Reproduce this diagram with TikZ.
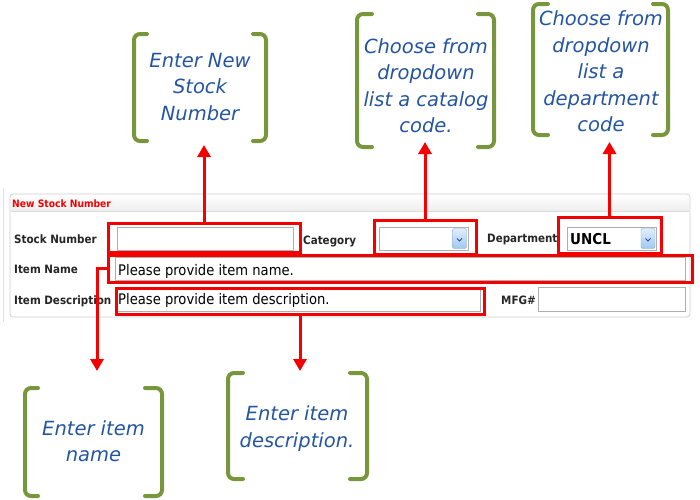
\documentclass[tikz,border=0pt]{standalone}
\usepackage{fontspec}
\usetikzlibrary{arrows.meta}
\newfontfamily\uifont{DejaVu Sans}[FakeStretch=0.9]
\newfontfamily\callfont{DejaVu Sans}
\definecolor{callblue}{RGB}{35,85,160}
\definecolor{brgreen}{RGB}{120,150,60}
\definecolor{hlred}{RGB}{245,0,0}
\definecolor{boxgray}{RGB}{175,175,175}
\definecolor{panelgray}{RGB}{205,205,205}
\definecolor{btnborder}{RGB}{130,170,215}
\definecolor{btntop}{RGB}{225,238,252}
\definecolor{btnbot}{RGB}{160,200,240}
\definecolor{chevblue}{RGB}{40,80,150}
\tikzset{
  hl/.style={draw=hlred, line width=3pt, inner sep=0pt},
  inbox/.style={draw=boxgray, fill=white, line width=0.8pt, inner sep=0pt},
  lbl/.style={font=\uifont\bfseries\fontsize{11.5}{12}\selectfont, anchor=base west, inner sep=0pt, text=black!85},
  intext/.style={font=\uifont\fontsize{14.6}{15}\selectfont, anchor=base west, inner sep=0pt},
  callout/.style={font=\callfont\itshape\fontsize{19.5}{26.5}\selectfont, text=callblue, align=center, inner sep=0pt},
  brk/.style={draw=brgreen, line width=4pt, rounded corners=6pt, line cap=round},
  arr/.style={draw=hlred, line width=3pt, -{Triangle[length=12pt,width=13pt]}},
  dbtn/.style={draw=btnborder, rounded corners=2pt, top color=btntop, bottom color=btnbot, inner sep=0pt, minimum width=14pt, minimum height=20pt},
  chev/.style={draw=chevblue, line width=1pt}
}
\newcommand\calloutbrackets[6]{%
  \draw[brk] (#2,#5) -- (#1,#5) -- (#1,#6) -- (#2,#6);
  \draw[brk] (#3,#5) -- (#4,#5) -- (#4,#6) -- (#3,#6);}
\begin{document}
\begin{tikzpicture}[x=1pt,y=-1pt]
\useasboundingbox (0,0) rectangle (700,499);
% panel
\draw[panelgray!60, line width=0.8pt] (3,188) -- (3,322);
\draw[panelgray, fill=white, rounded corners=3pt, line width=0.8pt] (10,194) rectangle (690,317);
\shade[top color=white, bottom color=black!7] (11,195) rectangle (689,211);
\draw[panelgray!70, line width=0.6pt] (11,211) -- (689,211);
\node[font=\uifont\bfseries\fontsize{10.2}{11}\selectfont, text=hlred, anchor=base west, inner sep=0pt] (title) at (12,207) {New Stock Number};
% labels
\node[lbl] (lsn) at (14,243) {Stock Number};
\node[lbl] (lcat) at (303,244) {Category};
\node[lbl] (ldep) at (487,242) {Department};
\node[lbl] (lin) at (14,273) {Item Name};
\node[lbl] (lid) at (14,304) {Item Description};
\node[lbl] (lmfg) at (501,304) {MFG\#};
% inputs
\node[inbox, minimum width=176pt, minimum height=23pt] (isn) at (205,238.5) {};
\node[inbox, minimum width=89pt, minimum height=23pt] (icat) at (423.5,238.5) {};
\node[inbox, minimum width=89pt, minimum height=23pt] (idep) at (611.5,238.5) {};
\node[inbox, minimum width=570pt, minimum height=23pt] (iname) at (400,268.5) {};
\node[inbox, minimum width=364pt, minimum height=23pt] (idesc) at (298,300) {};
\node[inbox, minimum width=147pt, minimum height=24pt] (imfg) at (611.5,299) {};
\node[dbtn] (cbtn) at (459.5,238.5) {};
\node[dbtn] (dbtn) at (648,238.5) {};
\draw[chev] ([shift={(-2.5,0)}]cbtn.center) -- ([shift={(0,2.5)}]cbtn.center) -- ([shift={(2.5,0)}]cbtn.center);
\draw[chev] ([shift={(-2.5,0)}]dbtn.center) -- ([shift={(0,2.5)}]dbtn.center) -- ([shift={(2.5,0)}]dbtn.center);
\node[intext] (tname) at (118,275) {Please provide item name.};
\node[intext] (tdesc) at (118,304.5) {Please provide item description.};
\node[intext, font=\uifont\bfseries\fontsize{15}{16}\selectfont] (tuncl) at (570,244.5) {UNCL};
% highlights
\node[hl, minimum width=192pt, minimum height=29pt] (hs) at (204,237.5) {};
\node[hl, minimum width=102pt, minimum height=34pt] (hc) at (425,237) {};
\node[hl, minimum width=103pt, minimum height=36pt] (hd) at (609.5,235) {};
\node[hl, minimum width=584pt, minimum height=27pt] (hn) at (400,268.5) {};
\node[hl, minimum width=368pt, minimum height=26pt] (hdesc) at (300,301) {};
% callouts
\node[callout] (c1) at (200,87) {Enter New\\Stock\\Number};
\node[callout] (c2) at (426,85.5) {Choose from\\dropdown\\list a catalog\\code.};
\node[callout] (c3) at (601,71.5) {Choose from\\dropdown\\list a\\department\\code};
\node[callout] (c4) at (93.5,441) {Enter item\\name};
\node[callout] (c5) at (297,428.5) {Enter item\\description.};
\calloutbrackets{134}{147}{253}{266}{34}{141}
\calloutbrackets{357}{372}{478}{494}{14}{147}
\calloutbrackets{533}{548}{653}{668}{4}{135}
\calloutbrackets{25}{38}{145}{162}{388}{496}
\calloutbrackets{228}{243}{350}{367}{373}{479}
% arrow tips
\coordinate (t1) at (204,145);
\coordinate (t2) at (425,142);
\coordinate (t3) at (609.5,142);
\coordinate (t4) at (97,371);
\coordinate (t5) at (300,371);
\draw[arr] (hs.north) -- (t1);
\draw[arr] (hc.north) -- (t2);
\draw[arr] (hd.north) -- (t3);
\draw[arr] (hn.west) -| (t4);
\draw[arr] (hdesc.south) -- (t5);
\end{tikzpicture}
\end{document}
